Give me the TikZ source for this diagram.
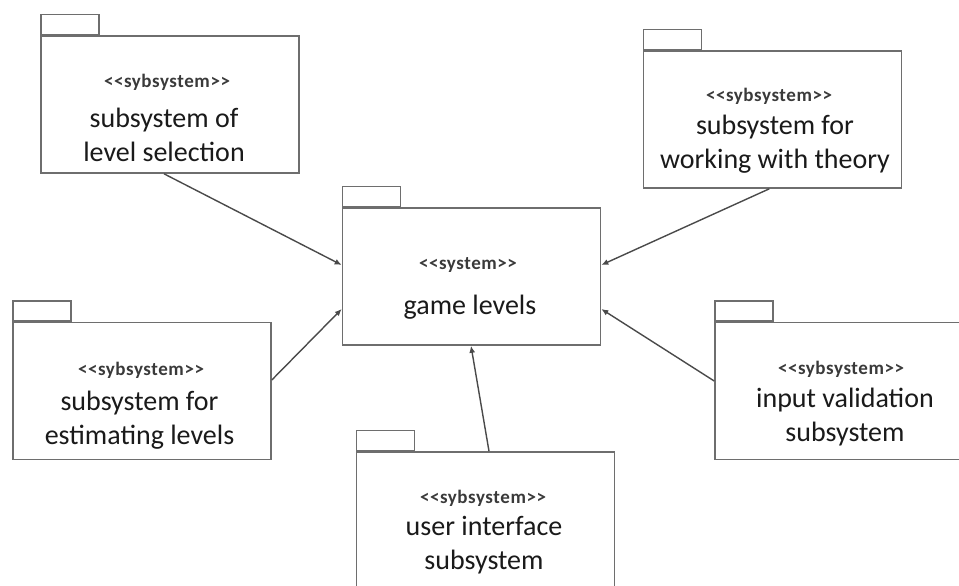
\documentclass[tikz,border=0pt]{standalone}
\usepackage{fontspec}
\setmainfont{Carlito}
\usetikzlibrary{arrows.meta}
\definecolor{boxgray}{HTML}{6E6E6E}
\definecolor{linec}{HTML}{4A4A4A}
\definecolor{txt}{HTML}{1A1A1A}
\definecolor{sterc}{HTML}{3A3A3A}
\newcommand\stfont{\fontsize{19}{21}\selectfont\bfseries\addfontfeature{LetterSpace=3}}
\newcommand\mnfont{\fontsize{28}{34}\selectfont}
\newcommand\stsub{{<}{<}sybsystem{>}{>}}
\tikzset{
  pkg/.style={draw=boxgray, line width=1.6pt, fill=white, inner sep=0pt,
    minimum width=258pt, minimum height=137pt},
  pkgtab/.style={draw=boxgray, line width=1.6pt, fill=white, inner sep=0pt,
    minimum width=58pt, minimum height=20pt, anchor=south west},
  ster/.style={text=sterc, font=\stfont, inner sep=0pt},
  lbl/.style={text=txt, font=\mnfont, align=center, inner sep=0pt},
  conn/.style={draw=linec, line width=1.4pt, -{Latex[length=7pt,width=6pt]}}
}
\begin{document}
\begin{tikzpicture}[x=1pt,y=-1pt]
\useasboundingbox (0,0) rectangle (959,586);
\clip (0,0) rectangle (959,586);
\fill[white] (0,0) rectangle (959,586);

% bodies
\node[pkg] (b1) at (170,104.5) {};
\node[pkg] (b2) at (772.5,119.5) {};
\node[pkg] (b3) at (471.5,276.5) {};
\node[pkg] (b4) at (142,391) {};
\node[pkg] (b5) at (844,391) {};
\node[pkg] (b6) at (485.5,520.5) {};

% tabs
\node[pkgtab] (t1) at (b1.north west) {};
\node[pkgtab] (t2) at (b2.north west) {};
\node[pkgtab] (t3) at (b3.north west) {};
\node[pkgtab] (t4) at (b4.north west) {};
\node[pkgtab] (t5) at (b5.north west) {};
\node[pkgtab] (t6) at (b6.north west) {};

% texts
\node[ster] (s1) at (167,82) {\stsub};
\node[lbl] (l1) at (164,135) {subsystem of\\level selection};
\node[ster] (s2) at (769,96) {\stsub};
\node[lbl] (l2) at (775,144.5) {subsystem for\\working with theory};
\node[ster] (s3) at (468,265) {{<}{<}system{>}{>}};
\node[lbl] (l3) at (470,307) {game levels};
\node[ster] (s4) at (141,370) {\stsub};
\node[lbl] (l4) at (139.5,420.5) {subsystem for\\estimating levels};
\node[ster] (s5) at (841,369) {\stsub};
\node[lbl] (l5) at (845,417) {input validation\\subsystem};
\node[ster] (s6) at (483,498) {\stsub};
\node[lbl] (l6) at (484,545.5) {user interface\\subsystem};

% connectors
\draw[conn] ([xshift=-6pt]b1.south) -- (b3.west |- 0,265);
\draw[conn] ([xshift=-133pt]b2.south east) -- (b3.east |- 0,265);
\draw[conn] (b4.east |- 0,380) -- (b3.west |- 0,309);
\draw[conn] (b5.west |- 0,381) -- (b3.east |- 0,309);
\draw[conn] ([xshift=3.5pt]b6.north) -- ([xshift=-0.5pt]b3.south);
\end{tikzpicture}
\end{document}
